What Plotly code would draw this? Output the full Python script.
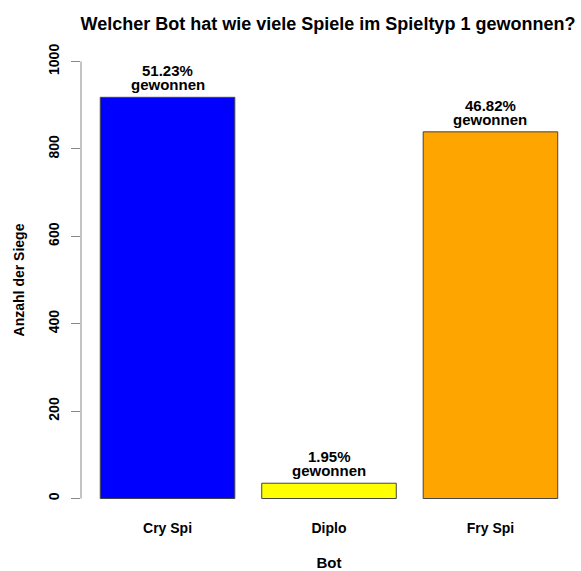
import plotly.graph_objects as go

bots = ["Cry Spi", "Diplo", "Fry Spi"]
wins = [918, 35, 839]
colors = ["#0000FF", "#FFFF00", "#FFA500"]
yticks = [0, 200, 400, 600, 800, 1000]

total = sum(wins)
pct_labels = [f"<b>{w / total * 100:.2f}%</b>" for w in wins]

FONT = "Liberation Sans, Arial, sans-serif"

fig = go.Figure()
fig.add_trace(go.Bar(
    x=bots, y=wins,
    marker=dict(color=colors, line=dict(color="#444444", width=1)),
    width=1 / 1.2,
    hoverinfo="x+y",
))

for b, w, t in zip(bots, wins, pct_labels):
    fig.add_annotation(x=b, y=w, text=t, showarrow=False, yanchor="middle",
                       yshift=26.5, font=dict(family=FONT, size=15, color="black"))
    fig.add_annotation(x=b, y=w, text="<b>gewonnen</b>", showarrow=False, yanchor="middle",
                       yshift=12.5, font=dict(family=FONT, size=15, color="black"))

# R-style axis line spanning only the tick range
fig.add_shape(type="line", xref="paper", x0=0, x1=0, yref="y", y0=min(yticks), y1=max(yticks),
              line=dict(color="#888888", width=1))

fig.update_layout(
    width=581, height=571,
    margin=dict(l=81, r=4, t=44, b=55),
    paper_bgcolor="white", plot_bgcolor="white",
    showlegend=False,
    title=dict(text="<b>Welcher Bot hat wie viele Spiele im Spieltyp 1 gewonnen?</b>",
               x=328 / 581, xanchor="center", xref="container",
               y=1 - 24 / 571, yanchor="middle", yref="container",
               font=dict(family=FONT, size=18, color="black")),
    font=dict(family=FONT, color="black"),
)
fig.update_xaxes(
    range=[-0.536, 2.536], showline=False, showgrid=False, zeroline=False, ticks="",
    automargin=False,
    tickfont=dict(family=FONT, size=14, color="black"),
    tickvals=bots, ticktext=[f"<b>{b}</b>" for b in bots],
    ticklabelstandoff=2,
    title=dict(text="<b>Bot</b>", font=dict(family=FONT, size=15, color="black"), standoff=28),
)
fig.update_yaxes(
    range=[-40, 1040], showline=False, showgrid=False, zeroline=False,
    automargin=False,
    tickvals=yticks, ticktext=[f"<b>{v}</b>" for v in yticks],
    ticks="outside", ticklen=9, tickcolor="#888888", tickwidth=1,
    tickangle=-90, tickfont=dict(family=FONT, size=14, color="black"),
    ticklabelstandoff=6,
    title=dict(text="<b>Anzahl der Siege</b>", font=dict(family=FONT, size=14, color="black"), standoff=18),
)

fig.write_html("out.html", config={"displayModeBar": False},
               post_script="document.body.style.margin='0';")
